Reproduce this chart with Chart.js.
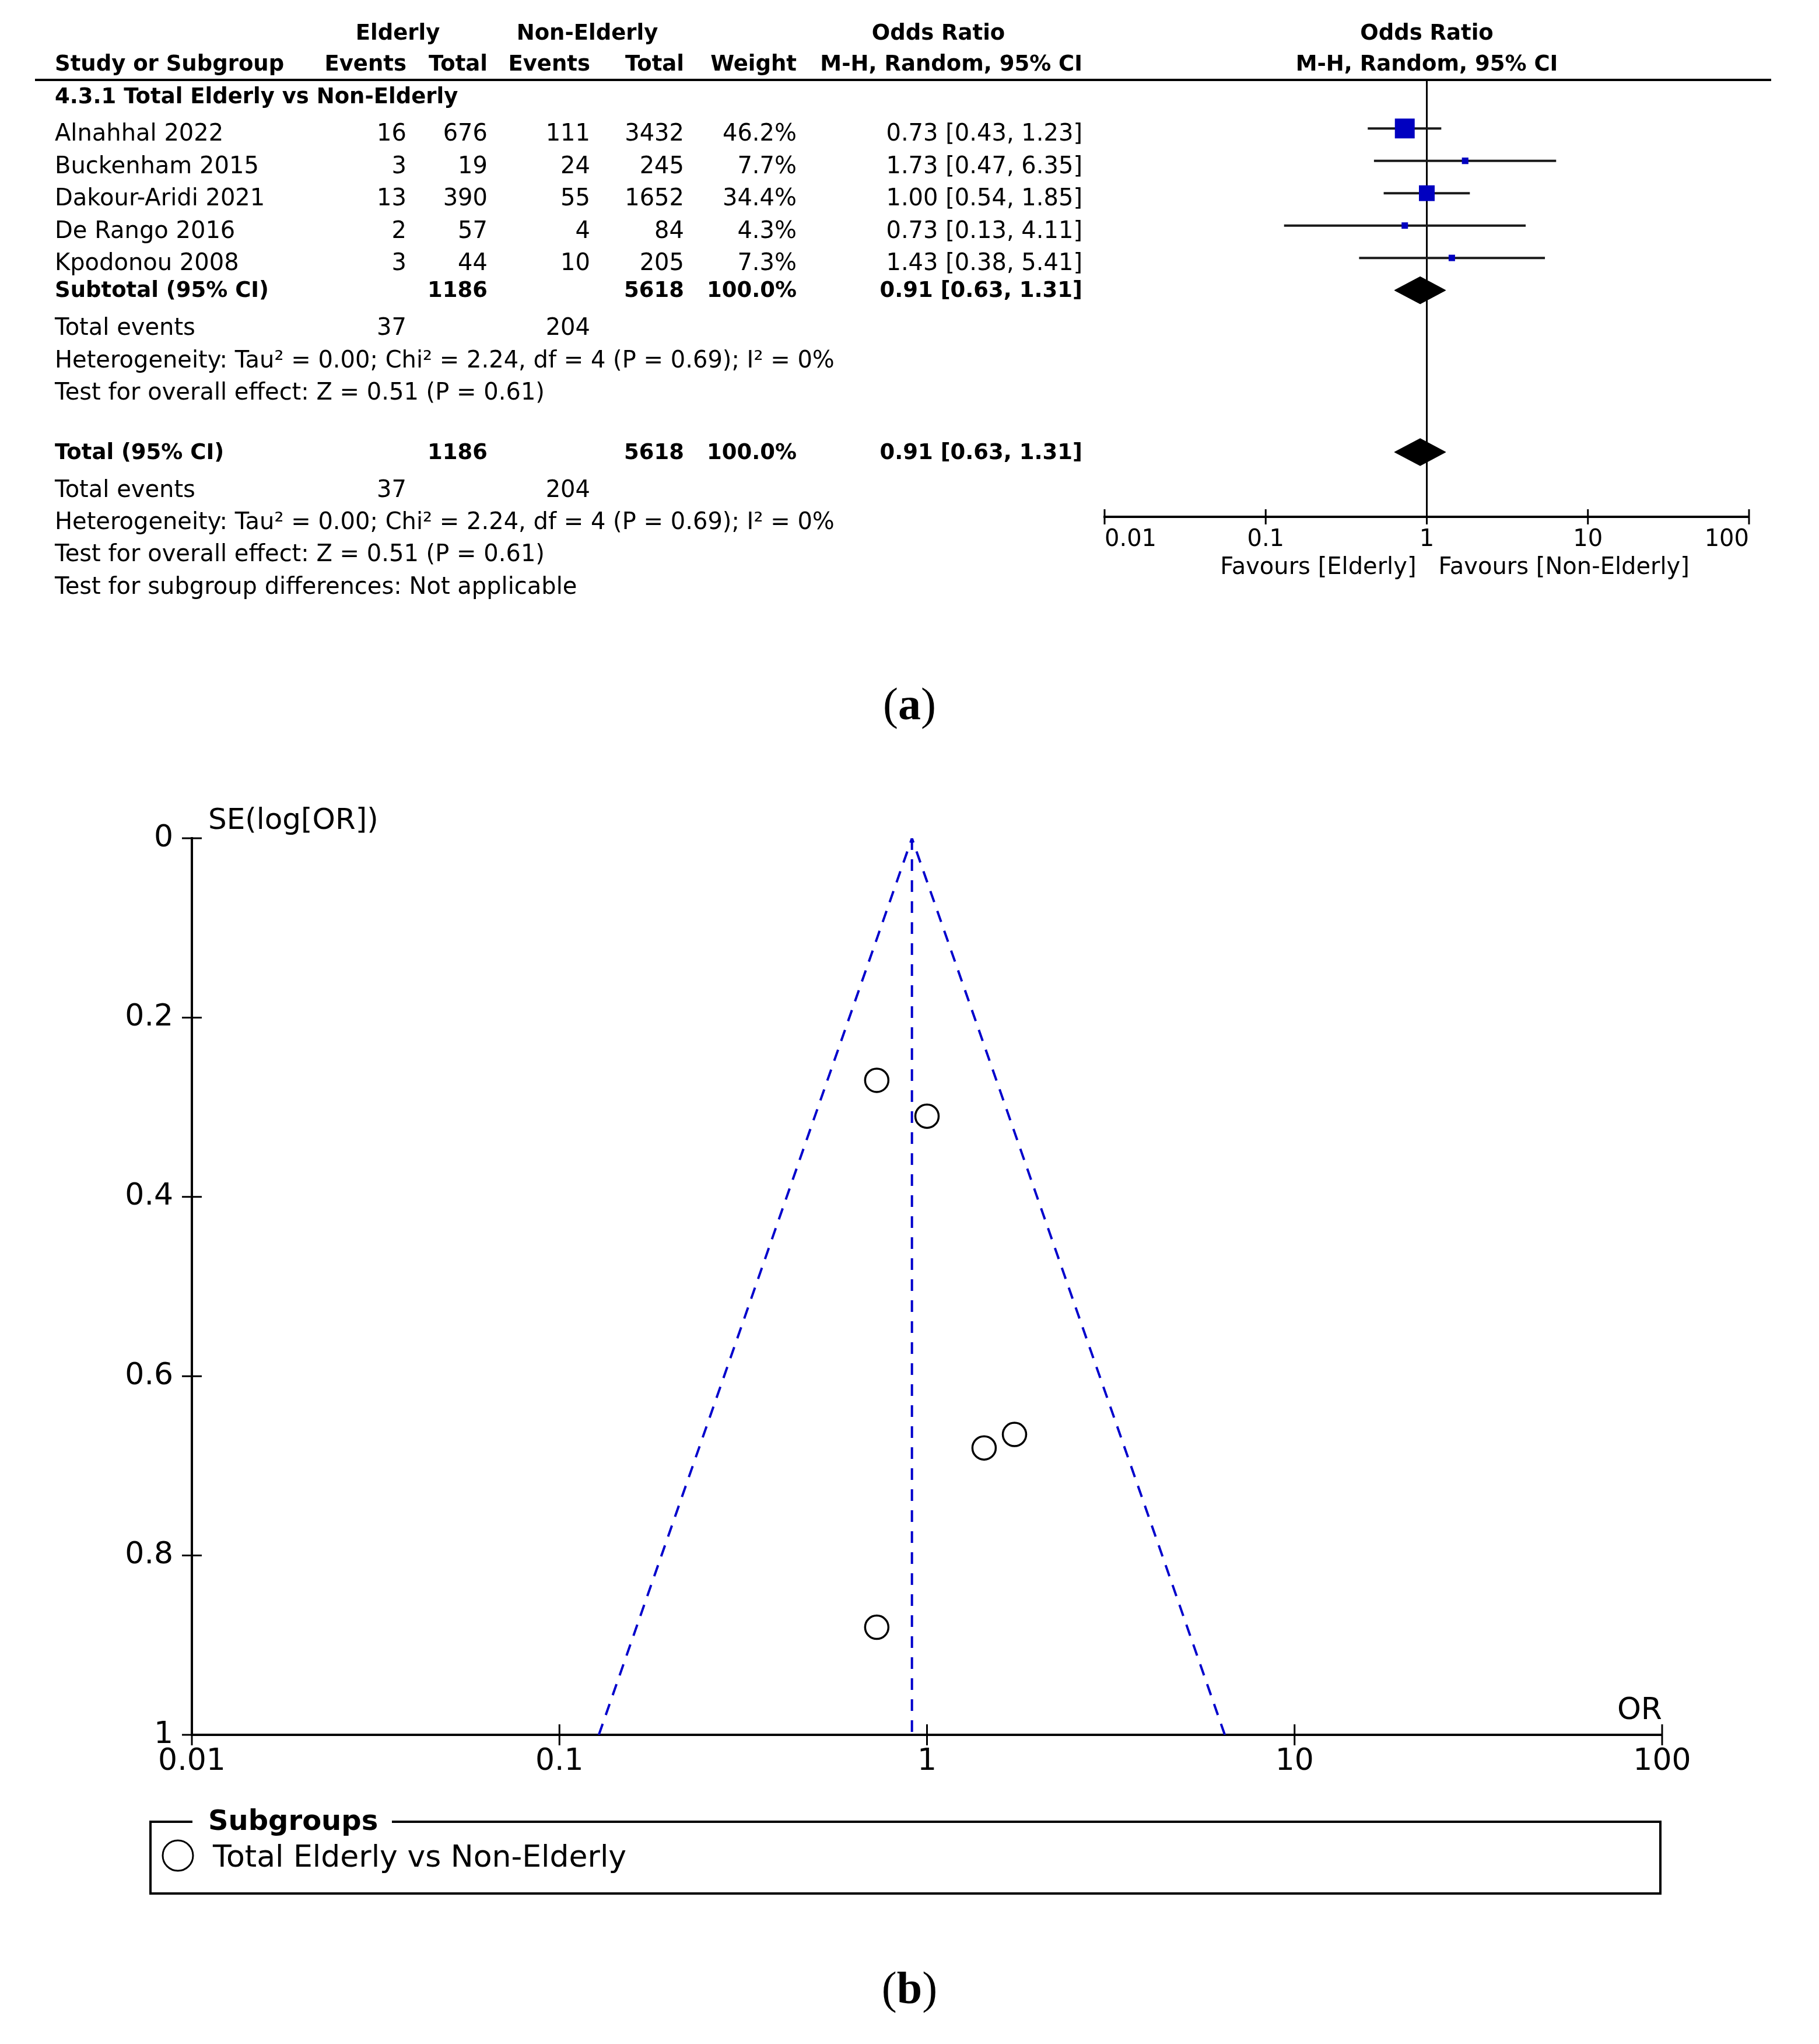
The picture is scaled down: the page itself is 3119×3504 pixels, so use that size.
<!DOCTYPE html>
<html>
<head>
<meta charset="utf-8">
<script src="https://cdn.jsdelivr.net/npm/chart.js@4.4.0/dist/chart.umd.min.js"></script>
<style>
  body { margin: 0; background: #fff; width: 3119px; height: 3504px; position: relative; overflow: hidden; }
  canvas { position: absolute; left: 0; }
  #forest { top: 0; width: 3119px; height: 1100px; }
  #funnel { top: 1300px; width: 3119px; height: 2204px; }
  .panel-label { position: absolute; left: 0; width: 3119px; text-align: center; font-family: "Liberation Serif", serif; font-size: 78px; line-height: 78px; color: #000; }
</style>
</head>
<body>
<canvas id="forest" width="3119" height="1100"></canvas>
<div class="panel-label" style="top:1168px">(<b>a</b>)</div>
<canvas id="funnel" width="3119" height="2204"></canvas>
<div class="panel-label" style="top:3369px">(<b>b</b>)</div>
<script>
// (a) forest plot data
const studies = ['Alnahhal 2022', 'Buckenham 2015', 'Dakour-Aridi 2021', 'De Rango 2016', 'Kpodonou 2008'];
const elderlyEvents = [16, 3, 13, 2, 3];
const elderlyTotal = [676, 19, 390, 57, 44];
const nonElderlyEvents = [111, 24, 55, 4, 10];
const nonElderlyTotal = [3432, 245, 1652, 84, 205];
const weights = [46.2, 7.7, 34.4, 4.3, 7.3];
const oddsRatios = [0.73, 1.73, 1.00, 0.73, 1.43];
const ciLow = [0.43, 0.47, 0.54, 0.13, 0.38];
const ciHigh = [1.23, 6.35, 1.85, 4.11, 5.41];

// pooled: events elderly, total elderly, events non-elderly, total non-elderly
const pooledCounts = [37, 1186, 204, 5618];
const pooledWeight = 100.0;
// pooled OR, lower, upper
const pooledOR = [0.91, 0.63, 1.31];
const heterogeneityText = 'Heterogeneity: Tau\u00b2 = 0.00; Chi\u00b2 = 2.24, df = 4 (P = 0.69); I\u00b2 = 0%';
const overallEffectText = 'Test for overall effect: Z = 0.51 (P = 0.61)';
const subgroupText = 'Test for subgroup differences: Not applicable';
const orTicks = [0.01, 0.1, 1, 10, 100];

// (b) funnel plot data
const funnelOR = [0.73, 1.73, 1.00, 0.73, 1.43];
const funnelSE = [0.27, 0.665, 0.31, 0.88, 0.68];
const funnelEdgeSE = [1, 0];
const funnelLowerOR = [0.128, 0.91];
const funnelUpperOR = [6.46, 0.91];
const seTicks = [0, 0.2, 0.4, 0.6, 0.8, 1];

const SANS = '"DejaVu Sans", sans-serif';

function text(ctx, s, x, y, align, bold, size) {
    ctx.font = (bold ? 'bold ' : '') + size + 'px ' + SANS;
    ctx.textAlign = align;
    ctx.fillText(s, x, y);
}

function line(ctx, x1, y1, x2, y2) {
    ctx.beginPath();
    ctx.moveTo(x1, y1);
    ctx.lineTo(x2, y2);
    ctx.stroke();
}

const fmt2 = v => v.toFixed(2);
const orText = (v, lo, hi) => `${fmt2(v)} [${fmt2(lo)}, ${fmt2(hi)}]`;

// ---------- forest plot ----------
const studyRow = i => 1.5 + i;
const SUB_ROW = 6.5;
const TOTAL_ROW = 11.5;
const AXIS_ROW = 13.5;

function diamond(row) {
    const [est, lo, hi] = pooledOR;
    return {
        data: [{x: lo, y: row}, {x: est, y: row - 0.42}, {x: hi, y: row}, {x: est, y: row + 0.42}, {x: lo, y: row}],
        showLine: true,
        fill: 'shape',
        backgroundColor: '#000',
        borderColor: '#000',
        borderWidth: 1,
        pointRadius: 0
    };
}

const forestDatasets = [
    {
        data: oddsRatios.map((v, i) => ({x: v, y: studyRow(i)})),
        pointStyle: 'rect',
        pointRadius: weights.map(w => Math.max(11, 6.6 + 0.593 * w) / Math.SQRT2),
        backgroundColor: '#0000c0',
        borderWidth: 0
    },
    diamond(SUB_ROW),
    diamond(TOTAL_ROW),
    ...studies.map((s, i) => ({
        data: [{x: ciLow[i], y: studyRow(i)}, {x: ciHigh[i], y: studyRow(i)}],
        showLine: true,
        borderColor: '#1a1a1a',
        borderWidth: 4,
        pointRadius: 0
    })),
    {
        data: [{x: 1, y: 0}, {x: 1, y: AXIS_ROW}],
        showLine: true,
        borderColor: '#000',
        borderWidth: 3,
        pointRadius: 0
    }
];

const forestTable = {
    id: 'forestTable',
    afterDraw(chart) {
        const ctx = chart.ctx;
        const xs = chart.scales.x, ys = chart.scales.y;
        const rowY = r => ys.getPixelForValue(r) + 21;
        const col = {name: 94, ev1: 697, tot1: 836, ev2: 1012, tot2: 1173, weight: 1366, or: 1856};
        const R = 40, B = 37;
        ctx.save();
        ctx.fillStyle = '#000';
        ctx.strokeStyle = '#000';
        ctx.textBaseline = 'alphabetic';

        // header
        let y = rowY(-1.62);
        text(ctx, 'Elderly', 682, y, 'center', true, B);
        text(ctx, 'Non-Elderly', 1007, y, 'center', true, B);
        text(ctx, 'Odds Ratio', 1609, y, 'center', true, B);
        text(ctx, 'Odds Ratio', xs.getPixelForValue(1), y, 'center', true, B);
        y = rowY(-0.67);
        text(ctx, 'Study or Subgroup', col.name, y, 'left', true, B);
        text(ctx, 'Events', col.ev1, y, 'right', true, B);
        text(ctx, 'Total', col.tot1, y, 'right', true, B);
        text(ctx, 'Events', col.ev2, y, 'right', true, B);
        text(ctx, 'Total', col.tot2, y, 'right', true, B);
        text(ctx, 'Weight', col.weight, y, 'right', true, B);
        text(ctx, 'M-H, Random, 95% CI', col.or, y, 'right', true, B);
        text(ctx, 'M-H, Random, 95% CI', xs.getPixelForValue(1), y, 'center', true, B);

        ctx.lineWidth = 4;
        line(ctx, 60, ys.getPixelForValue(0), 3037, ys.getPixelForValue(0));

        text(ctx, '4.3.1 Total Elderly vs Non-Elderly', col.name, rowY(0.35), 'left', true, B);

        studies.forEach((s, i) => {
            const yy = rowY(studyRow(i));
            text(ctx, s, col.name, yy, 'left', false, R);
            text(ctx, String(elderlyEvents[i]), col.ev1, yy, 'right', false, R);
            text(ctx, String(elderlyTotal[i]), col.tot1, yy, 'right', false, R);
            text(ctx, String(nonElderlyEvents[i]), col.ev2, yy, 'right', false, R);
            text(ctx, String(nonElderlyTotal[i]), col.tot2, yy, 'right', false, R);
            text(ctx, weights[i].toFixed(1) + '%', col.weight, yy, 'right', false, R);
            text(ctx, orText(oddsRatios[i], ciLow[i], ciHigh[i]), col.or, yy, 'right', false, R);
        });

        const totalBlock = (label, r0, evRow) => {
            const yy = rowY(r0);
            text(ctx, label, col.name, yy, 'left', true, B);
            text(ctx, String(pooledCounts[1]), col.tot1, yy, 'right', true, B);
            text(ctx, String(pooledCounts[3]), col.tot2, yy, 'right', true, B);
            text(ctx, pooledWeight.toFixed(1) + '%', col.weight, yy, 'right', true, B);
            text(ctx, orText(...pooledOR), col.or, yy, 'right', true, B);
            const ev = rowY(evRow);
            text(ctx, 'Total events', col.name, ev, 'left', false, R);
            text(ctx, String(pooledCounts[0]), col.ev1, ev, 'right', false, R);
            text(ctx, String(pooledCounts[2]), col.ev2, ev, 'right', false, R);
        };
        totalBlock('Subtotal (95% CI)', 6.32, 7.5);
        text(ctx, heterogeneityText, col.name, rowY(8.5), 'left', false, R);
        text(ctx, overallEffectText, col.name, rowY(9.5), 'left', false, R);

        totalBlock('Total (95% CI)', 11.34, 12.5);
        text(ctx, heterogeneityText, col.name, rowY(13.5), 'left', false, R);
        text(ctx, overallEffectText, col.name, rowY(14.5), 'left', false, R);
        text(ctx, subgroupText, col.name, rowY(15.5), 'left', false, R);

        // OR axis ticks and labels
        const axisY = chart.chartArea.bottom;
        ctx.lineWidth = 3;
        orTicks.forEach((v, i) => {
            const px = xs.getPixelForValue(v);
            line(ctx, px, axisY - 13, px, axisY + 13);
            const align = i === 0 ? 'left' : (i === orTicks.length - 1 ? 'right' : 'center');
            text(ctx, String(v), px, axisY + 50, align, false, R);
        });
        const one = xs.getPixelForValue(1);
        text(ctx, 'Favours [Elderly]', one - 18, axisY + 98, 'right', false, R);
        text(ctx, 'Favours [Non-Elderly]', one + 20, axisY + 98, 'left', false, R);
        ctx.restore();
    }
};

new Chart(document.getElementById('forest'), {
    type: 'scatter',
    data: {datasets: forestDatasets},
    options: {
        responsive: false,
        animation: false,
        devicePixelRatio: 1,
        events: [],
        layout: {padding: {left: 1894, right: 120, top: 137, bottom: 214}},
        plugins: {legend: {display: false}, tooltip: {enabled: false}},
        scales: {
            x: {
                type: 'logarithmic',
                min: 0.01,
                max: 100,
                grid: {drawOnChartArea: false, drawTicks: false},
                ticks: {display: false},
                border: {display: true, color: '#000', width: 4}
            },
            y: {type: 'linear', min: 0, max: AXIS_ROW, reverse: true, display: false}
        }
    },
    plugins: [forestTable]
});

// ---------- funnel plot ----------
const funnelDash = {
    showLine: true,
    borderColor: '#0000cc',
    borderWidth: 4,
    borderDash: [20, 16],
    pointRadius: 0
};

const funnelExtras = {
    id: 'funnelExtras',
    afterDraw(chart) {
        const ctx = chart.ctx;
        const xs = chart.scales.x, ys = chart.scales.y;
        const area = chart.chartArea;
        ctx.save();
        ctx.strokeStyle = '#000';
        ctx.fillStyle = '#000';
        ctx.lineWidth = 3;
        ctx.textBaseline = 'alphabetic';
        xs.ticks.forEach(t => {
            const px = xs.getPixelForValue(t.value);
            line(ctx, px, area.bottom - 18, px, area.bottom + 18);
        });
        ys.ticks.forEach(t => {
            const py = ys.getPixelForValue(t.value);
            line(ctx, area.left - 17, py, area.left + 17, py);
        });
        text(ctx, 'SE(log[OR])', area.left + 28, area.top - 16, 'left', false, 50);
        text(ctx, 'OR', area.right, area.bottom - 27, 'right', false, 52);

        // legend box
        const left = 258, right = 2847, top = 1823, bottom = 1946;
        ctx.lineWidth = 4;
        ctx.beginPath();
        ctx.moveTo(330, top);
        ctx.lineTo(left, top);
        ctx.lineTo(left, bottom);
        ctx.lineTo(right, bottom);
        ctx.lineTo(right, top);
        ctx.lineTo(672, top);
        ctx.stroke();
        text(ctx, 'Subgroups', 357, 1837, 'left', true, 48);
        ctx.lineWidth = 3;
        ctx.beginPath();
        ctx.arc(305, 1881, 26, 0, Math.PI * 2);
        ctx.stroke();
        text(ctx, chart.data.datasets[0].label, 365, 1900, 'left', false, 52);
        ctx.restore();
    }
};

const tickFont = {family: SANS, size: 52};

new Chart(document.getElementById('funnel'), {
    type: 'scatter',
    data: {
        datasets: [
            {
                label: 'Total Elderly vs Non-Elderly',
                data: funnelOR.map((v, i) => ({x: v, y: funnelSE[i]})),
                pointStyle: 'circle',
                pointRadius: 20,
                borderWidth: 3.5,
                borderColor: '#000',
                backgroundColor: 'rgba(0,0,0,0)'
            },
            {...funnelDash, data: funnelEdgeSE.map((s, i) => ({x: funnelLowerOR[i], y: s}))},
            {...funnelDash, data: funnelEdgeSE.map((s, i) => ({x: funnelUpperOR[i], y: s}))},
            {...funnelDash, data: [{x: funnelLowerOR[1], y: 0}, {x: funnelLowerOR[1], y: 1}]}
        ]
    },
    options: {
        responsive: false,
        animation: false,
        devicePixelRatio: 1,
        events: [],
        layout: {padding: {left: 0, right: 269, top: 137, bottom: 0}},
        plugins: {legend: {display: false}, tooltip: {enabled: false}},
        scales: {
            x: {
                type: 'logarithmic',
                min: 0.01,
                max: 100,
                afterBuildTicks: s => { s.ticks = orTicks.map(v => ({value: v})); },
                afterFit: s => { s.height = 530; },
                grid: {drawOnChartArea: false, drawTicks: false},
                border: {color: '#000', width: 4},
                ticks: {color: '#000', font: tickFont, padding: 15, autoSkip: false, maxRotation: 0, callback: v => String(v)}
            },
            y: {
                type: 'linear',
                min: 0,
                max: 1,
                reverse: true,
                afterBuildTicks: s => { s.ticks = seTicks.map(v => ({value: v})); },
                afterFit: s => { s.width = 329; },
                grid: {drawOnChartArea: false, drawTicks: false},
                border: {color: '#000', width: 4},
                ticks: {color: '#000', font: tickFont, padding: 32, callback: v => String(v)}
            }
        }
    },
    plugins: [funnelExtras]
});
</script>
</body>
</html>
